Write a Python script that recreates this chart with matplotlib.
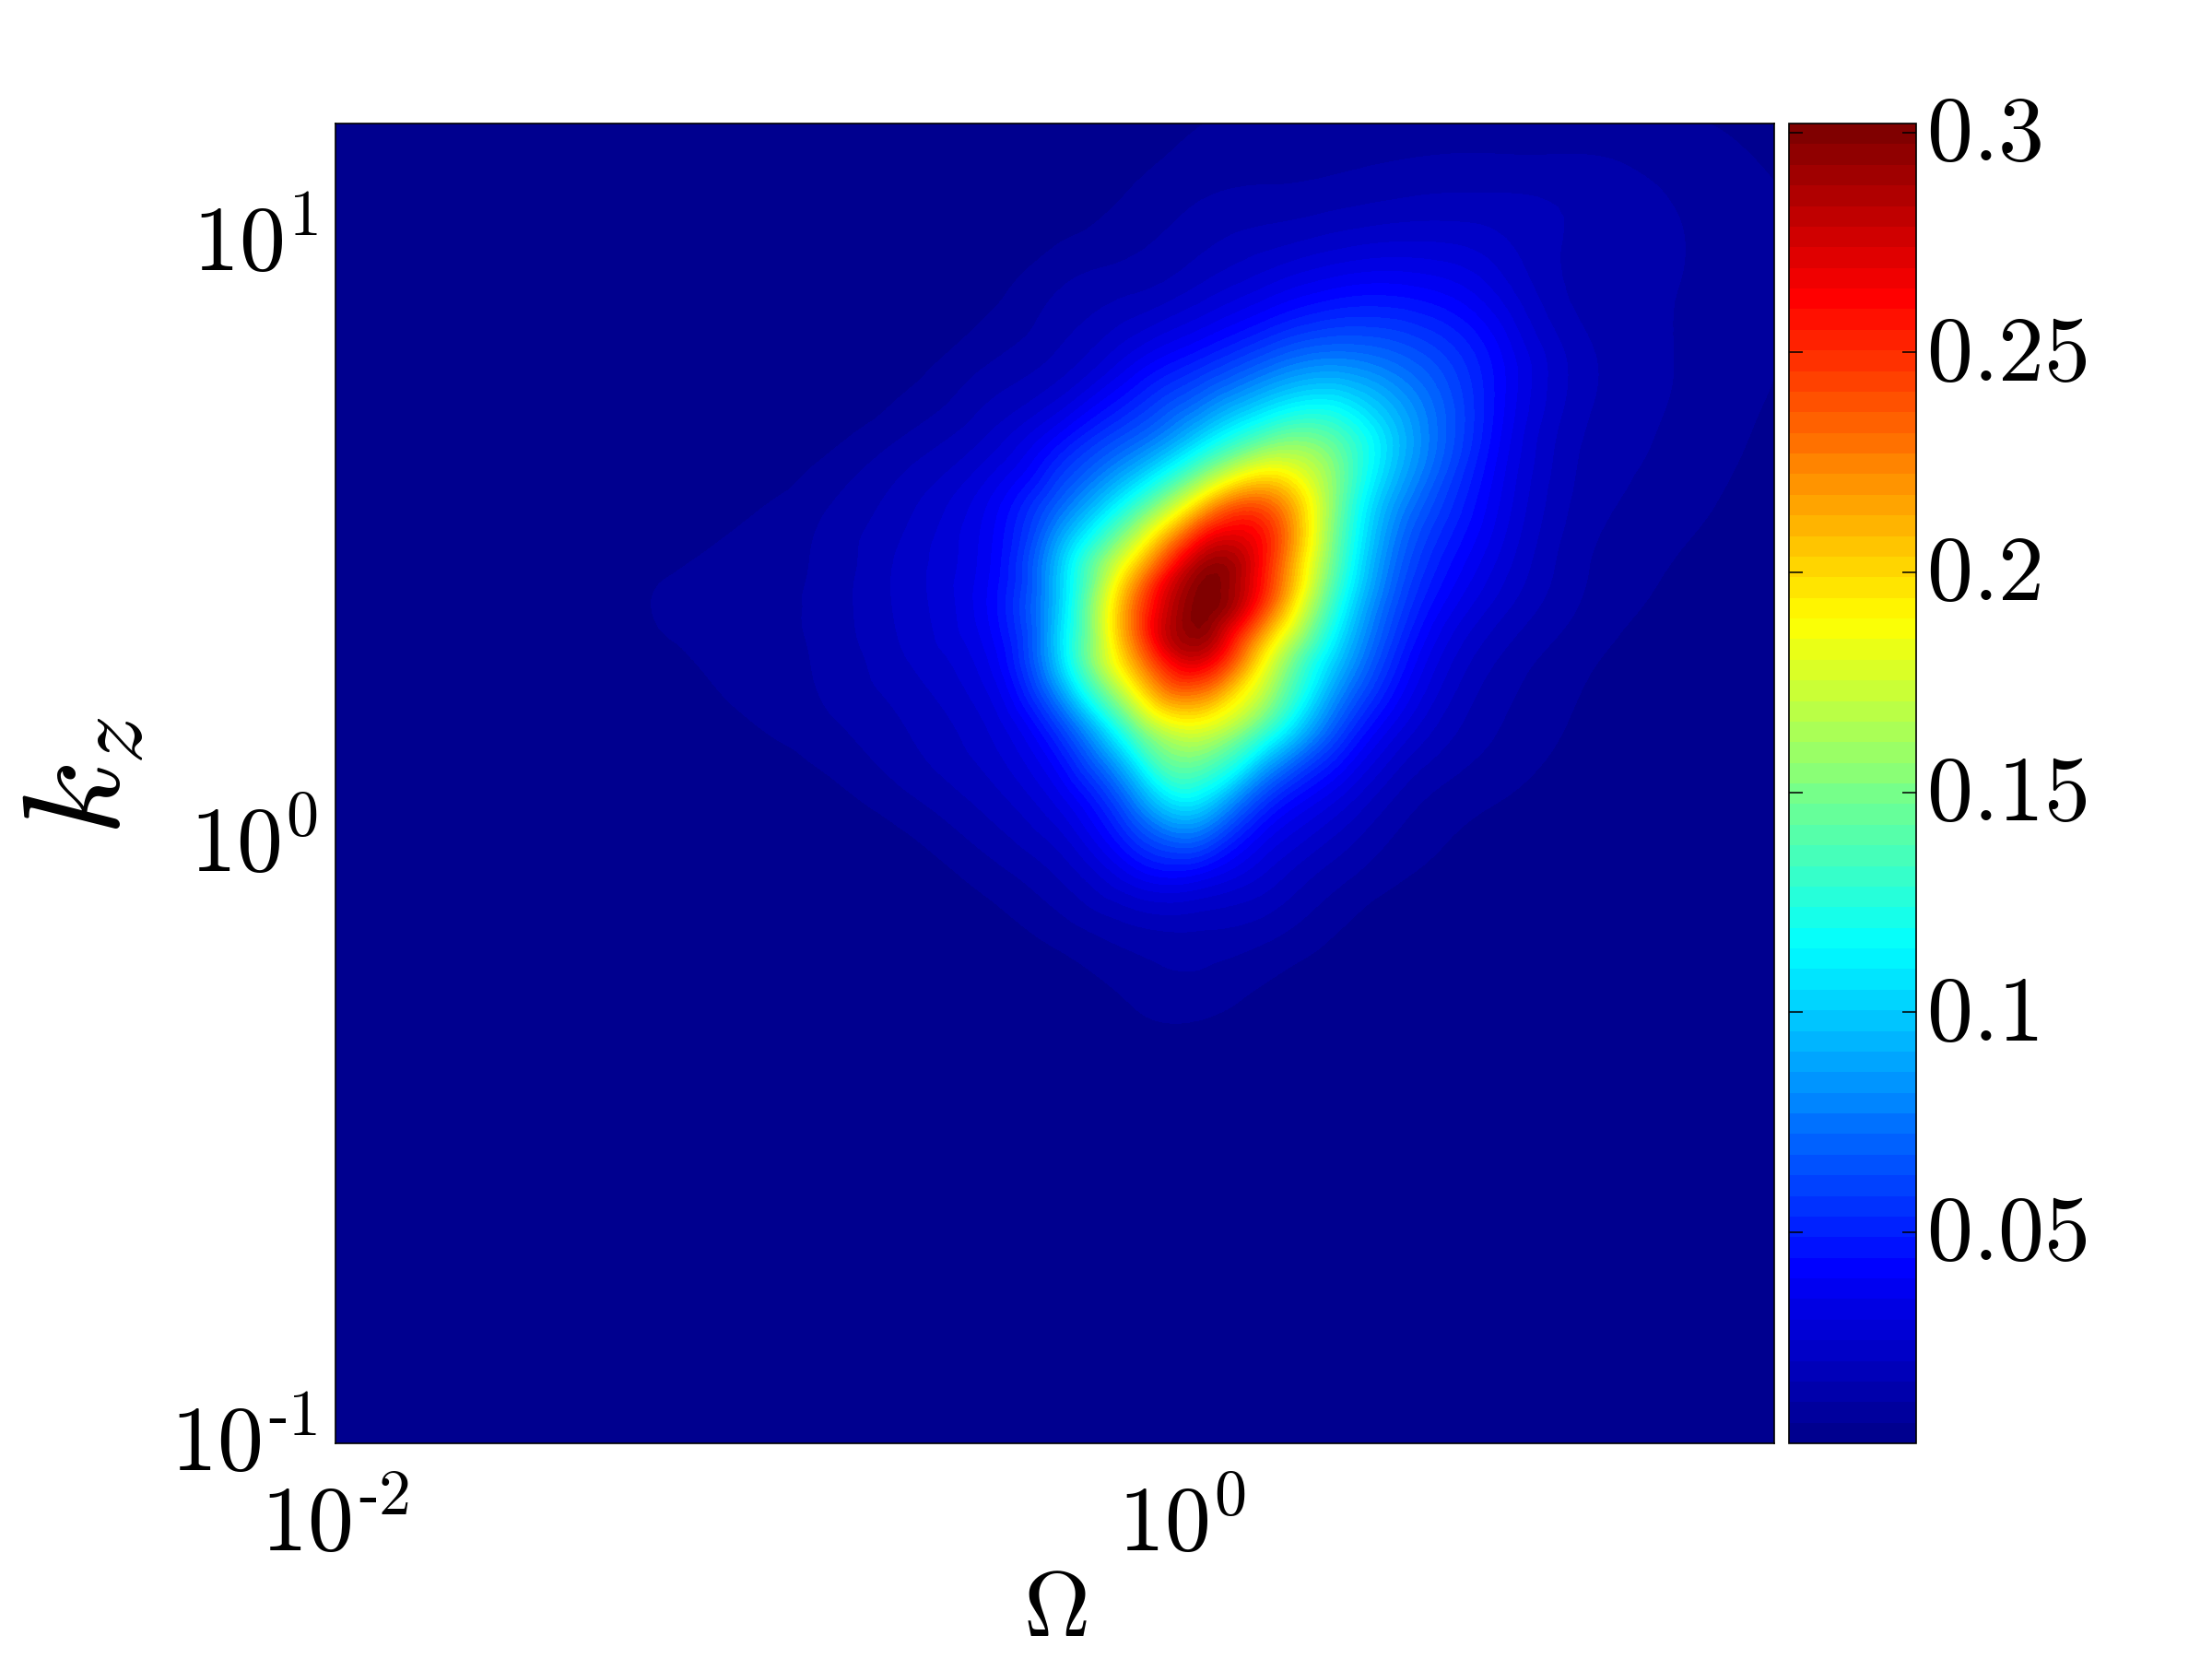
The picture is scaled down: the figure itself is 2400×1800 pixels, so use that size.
import numpy as np
import matplotlib
matplotlib.use("Agg")
import matplotlib.pyplot as plt
from matplotlib.colors import ListedColormap, LinearSegmentedColormap
from matplotlib.tri import Triangulation, UniformTriRefiner
from matplotlib.transforms import ScaledTranslation

plt.rcParams['mathtext.fontset'] = 'cm'
plt.rcParams['font.family'] = ['DejaVu Serif']

log_omega = [-2, -1.46, -1.26, -1.06, -0.86, -0.66, -0.46, -0.293, -0.127, 0.04, 0.207, 0.373, 0.54, 0.74, 0.94, 1.14, 1.4]
log_kz = [1.2, 1.078, 0.936, 0.795, 0.678, 0.56, 0.466, 0.395, 0.301, 0.184, 0.066, -0.052, -0.169, -0.287, -0.428, -1]

row_00 = [.002,.002,.002,.002,.002,.002,.002,.002,.0035,.0065,.0075,.008,.0085,.0085,.008,.0075,.005]
row_01 = [.002,.002,.002,.002,.002,.002,.002,.0035,.007,.011,.0125,.014,.016,.0165,.015,.0115,.007]
row_02 = [.002,.002,.002,.002,.002,.002,.0045,.0105,.014,.02,.029,.037,.038,.028,.0145,.0118,.0072]
row_03 = [.002,.002,.002,.002,.002,.0045,.0115,.018,.034,.052,.072,.082,.07,.043,.0185,.0118,.0068]
row_04 = [.002,.002,.002,.002,.0045,.0113,.021,.04,.065,.1,.14,.135,.088,.042,.0165,.011,.0055]
row_05 = [.002,.002,.002,.0048,.0105,.019,.035,.07,.125,.205,.235,.145,.074,.036,.0145,.009,.004]
row_06 = [.002,.002,.0045,.0085,.012,.022,.038,.095,.19,.285,.25,.135,.062,.03,.0125,.0069,.0035]
row_07 = [.002,.0025,.0065,.009,.0125,.022,.0395,.098,.22,.30,.235,.12,.054,.024,.0112,.0058,.003]
row_08 = [.002,.002,.004,.0085,.0118,.02,.034,.098,.205,.27,.18,.095,.042,.016,.0078,.004,.0025]
row_09 = [.002,.002,.002,.0048,.0095,.0155,.025,.055,.13,.175,.125,.06,.026,.0115,.0058,.003,.002]
row_10 = [.002,.002,.002,.002,.004,.0095,.0175,.031,.07,.105,.052,.028,.0125,.0067,.0035,.002,.002]
row_11 = [.002,.002,.002,.002,.002,.0035,.009,.0165,.034,.039,.024,.013,.0067,.0035,.002,.002,.002]
row_12 = [.002,.002,.002,.002,.002,.002,.0035,.0072,.012,.0138,.0108,.0055,.0025,.002,.002,.002,.002]
row_13 = [.002,.002,.002,.002,.002,.002,.002,.0025,.0056,.0072,.0042,.0025,.002,.002,.002,.002,.002]
row_14 = [.002] * 17
row_15 = [.002] * 17
rows = [row_00, row_01, row_02, row_03, row_04, row_05, row_06, row_07,
        row_08, row_09, row_10, row_11, row_12, row_13, row_14, row_15]

cbar_ticks = [0.05, 0.1, 0.15, 0.2, 0.25, 0.3]
cbar_labels = ['0.05', '0.1', '0.15', '0.2', '0.25', '0.3']
x_ticks = [0.01, 1]
x_labels = ['$10^{\u2010 2}$', r'$10^{0}$']
y_ticks = [0.1, 1, 10]
y_labels = ['$10^{\u2010 1}$', r'$10^{0}$', r'$10^{1}$']

vmin, vmax, n_bands = 0.002, 0.302, 64
jet_m = LinearSegmentedColormap.from_list('jetm', [
    (0.0, (0, 0, 0.5625)), (0.125, (0, 0, 1)), (0.375, (0, 1, 1)),
    (0.625, (1, 1, 0)), (0.875, (1, 0, 0)), (1.0, (0.5, 0, 0))], N=256)
cmap = ListedColormap(jet_m(np.linspace(0, 1, n_bands)))
levels = np.linspace(vmin, vmax, n_bands + 1)

W, H = 2400, 1800
fig = plt.figure(figsize=(24, 18), dpi=100)
L, R, T, B = 364, 1925, 134, 1566
ax = fig.add_axes([L / W, 1 - B / H, (R - L) / W, (B - T) / H])
cax = fig.add_axes([1941 / W, 1 - B / H, (2079 - 1941) / W, (B - T) / H])

gx, gy = np.meshgrid(log_omega, log_kz)
z = np.array(rows, dtype=float)
tri = Triangulation(gx.ravel(), gy.ravel())
tf, lzf = UniformTriRefiner(tri).refine_field(np.log(z.ravel()), subdiv=3)
zf = np.clip(np.exp(lzf), vmin + 1e-5, vmax - 1e-5)
tp = Triangulation(10 ** tf.x, 10 ** tf.y, tf.triangles)

ax.set_facecolor(cmap(0))
cs = ax.tricontourf(tp, zf, levels=levels, cmap=cmap, vmin=vmin, vmax=vmax)
ax.set_xscale('log')
ax.set_yscale('log')
ax.set_xlim(10 ** log_omega[0], 10 ** log_omega[-1])
ax.set_ylim(10 ** log_kz[-1], 10 ** log_kz[0])
ax.set_xticks(x_ticks, x_labels, fontsize=72)
ax.set_yticks(y_ticks, y_labels, fontsize=72)
ax.minorticks_off()
ax.tick_params(axis='x', length=0, pad=30)
ax.tick_params(axis='y', length=0, pad=14)
for s in ax.spines.values():
    s.set_linewidth(1.2)
up = ScaledTranslation(0, 7 / 100, fig.dpi_scale_trans)
for t in ax.get_yticklabels():
    t.set_transform(t.get_transform() + up)

cb = fig.colorbar(cs, cax=cax, drawedges=False)
cb.set_ticks(cbar_ticks, labels=[f'${t}$' for t in cbar_labels])
cb.ax.minorticks_off()
cb.ax.tick_params(direction='in', length=11, width=1.1, left=True, right=True,
                  labelsize=72, pad=8)
cb.outline.set_linewidth(1.2)
for t in cb.ax.get_yticklabels():
    t.set_transform(t.get_transform() + up)

fig.text(1145 / W, 1 - 1748 / H, r'$\Omega$', fontsize=72, ha='center', va='center')
fig.text(88 / W, 1 - 842 / H, r'$k_z$', fontsize=108, rotation=90, ha='center', va='center')

fig.savefig('out.png', dpi=100)
